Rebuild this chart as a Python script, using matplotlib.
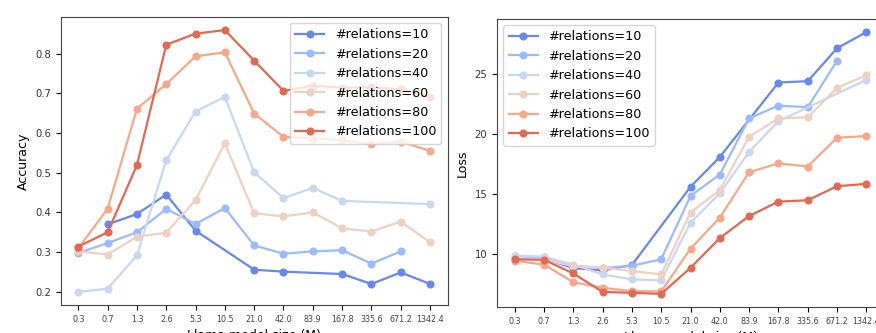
"""
Two panels: accuracy and loss vs. Llama model size, one line per #relations.
Reference image is a crop, so the axes run past the right and bottom edges.
"""

import matplotlib
matplotlib.use("Agg")
import matplotlib.pyplot as plt
import numpy as np

# ---- data ----
SIZES = ["0.3", "0.7", "1.3", "2.6", "5.3", "10.5", "21.0", "42.0",
         "83.9", "167.8", "335.6", "671.2", "1342.4"]
RELATIONS = [10, 20, 40, 60, 80, 100]

# None = no point at that size (line joins its neighbours)
acc_10 = [None, 0.370, 0.396, 0.445, 0.354, None, 0.256, 0.251,
          None, 0.245, 0.220, 0.249, 0.220]
acc_20 = [0.298, 0.323, 0.350, 0.409, 0.371, 0.411, 0.317, 0.296,
          0.302, 0.305, 0.271, 0.302, None]
acc_40 = [0.200, 0.208, 0.292, 0.531, 0.654, 0.691, 0.501, 0.436,
          0.462, 0.429, None, None, 0.421]
acc_60 = [0.302, 0.294, 0.339, 0.349, 0.431, 0.574, 0.398, 0.390,
          0.400, 0.360, 0.352, 0.377, 0.325]
acc_80 = [0.310, 0.409, 0.661, 0.723, 0.793, 0.803, 0.649, 0.590,
          0.586, 0.582, 0.572, 0.578, 0.555]
acc_100 = [0.314, 0.350, 0.519, 0.822, 0.850, 0.859, 0.782, 0.706,
           0.719, 0.714, 0.715, 0.710, 0.691]

loss_10 = [None, 9.6, 8.8, 8.6, 9.05, None, 15.6, 18.1,
           None, 24.33, 24.44, 27.2, 28.55]
loss_20 = [9.8, 9.7, 9.0, 8.8, 9.0, 9.53, 14.84, 16.63,
           21.33, 22.40, 22.26, 26.15, None]
loss_40 = [9.85, 9.75, 9.1, 8.27, 7.85, 7.77, 12.6, 15.06,
           18.53, 21.1, None, None, 24.55]
loss_60 = [9.55, 9.5, 8.97, 8.83, 8.55, 8.27, 13.44, 15.34,
           19.79, 21.33, 21.42, 23.88, 24.94]
loss_80 = [9.4, 9.1, 7.62, 7.15, 6.87, 6.85, 10.42, 13.02,
           16.83, 17.56, 17.30, 19.71, 19.85]
loss_100 = [9.53, 9.5, 8.35, 6.81, 6.73, 6.64, 8.82, 11.31,
            13.16, 14.36, 14.48, 15.65, 15.85]

ACC = [acc_10, acc_20, acc_40, acc_60, acc_80, acc_100]
LOSS = [loss_10, loss_20, loss_40, loss_60, loss_80, loss_100]

# coolwarm, 6 steps
COLORS = ["#6788ee", "#9abbff", "#c9d7f0", "#edd1c2", "#f7a889", "#e26952"]


def _panel(ax, series, ylabel, legend_loc):
    x = np.arange(len(SIZES))
    for vals, n, c in zip(series, RELATIONS, COLORS):
        pts = [(xi, v) for xi, v in zip(x, vals) if v is not None]
        px, py = zip(*pts)
        ax.plot(px, py, "-o", color=c, lw=1.6, ms=4.8,
                label=f"#relations={n}")
    ax.set_xticks(x)
    ax.set_xticklabels(SIZES, fontsize=5.8, color="#444444")
    ax.tick_params(axis="y", labelsize=7.2, labelcolor="#333333")
    ax.set_xlabel("Llama model size (M)", fontsize=9)
    ax.set_ylabel(ylabel, fontsize=9)
    ax.legend(loc=legend_loc, fontsize=9.2, handlelength=2.3)
    for s in ax.spines.values():
        s.set_color("#444444")


def main():
    fig = plt.figure(figsize=(8.76, 3.33), dpi=100)
    ax1 = fig.add_axes([0.0693, 0.0841, 0.4417, 0.8649])
    ax2 = fig.add_axes([0.5674, 0.0781, 0.4417, 0.8649])

    _panel(ax1, ACC, "Accuracy", "upper right")
    _panel(ax2, LOSS, "Loss", "upper left")
    ax2.set_yticks([10, 15, 20, 25])

    fig.savefig("out.png", dpi=100)
    plt.close(fig)


if __name__ == "__main__":
    main()
